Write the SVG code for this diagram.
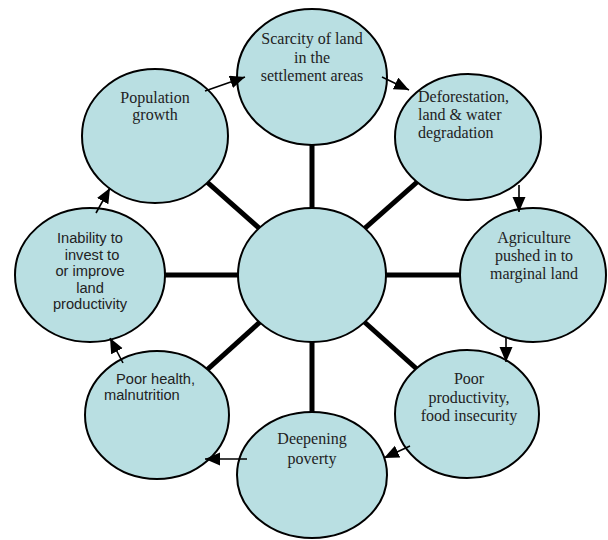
<svg xmlns="http://www.w3.org/2000/svg" width="608" height="540" viewBox="0 0 608 540">
<style>
.node ellipse{fill:#b9dfe2;stroke:#000;stroke-width:2}
.spoke{stroke:#000;stroke-width:5}
.arrow{stroke:#000;stroke-width:1.6;fill:none;marker-end:url(#ah)}
.serif{font-family:"Liberation Serif","Times New Roman",serif;font-size:16px;fill:#222}
.sans{font-family:"Liberation Sans",Arial,sans-serif;font-size:14.67px;fill:#222}
.c{text-anchor:middle}
</style>
<defs>
<marker id="ah" markerUnits="userSpaceOnUse" markerWidth="16" markerHeight="14" refX="15" refY="6.5" orient="auto">
<path d="M0,0 L15,6.5 L0,13 z" fill="#000"/>
</marker>
</defs>
<rect width="608" height="540" fill="#fff"/>
<g id="spokes">
<line class="spoke" x1="312" y1="275" x2="312" y2="77"/>
<line class="spoke" x1="312" y1="275" x2="468" y2="137"/>
<line class="spoke" x1="312" y1="275" x2="533" y2="275"/>
<line class="spoke" x1="312" y1="275" x2="467" y2="414"/>
<line class="spoke" x1="312" y1="275" x2="312" y2="475"/>
<line class="spoke" x1="312" y1="275" x2="157" y2="415"/>
<line class="spoke" x1="312" y1="275" x2="90" y2="275"/>
<line class="spoke" x1="312" y1="275" x2="155" y2="136"/>
</g>
<g id="center" class="node"><ellipse cx="312" cy="275" rx="74" ry="67"/></g>
<g id="scarcity" class="node"><ellipse cx="312" cy="77" rx="75" ry="68"/>
<text class="serif c" x="312" y="44">Scarcity of land</text>
<text class="serif c" x="312" y="63">in the</text>
<text class="serif c" x="312" y="81">settlement areas</text></g>
<g id="deforestation" class="node"><ellipse cx="468" cy="137" rx="73" ry="63"/>
<text class="serif" x="418" y="102">Deforestation,</text>
<text class="serif" x="418" y="120">land &amp; water</text>
<text class="serif" x="418" y="138">degradation</text></g>
<g id="agriculture" class="node"><ellipse cx="533" cy="275" rx="73" ry="67"/>
<text class="serif c" x="534" y="243">Agriculture</text>
<text class="serif c" x="534" y="261">pushed in to</text>
<text class="serif c" x="534" y="279">marginal land</text></g>
<g id="productivity" class="node"><ellipse cx="467" cy="414" rx="72" ry="64"/>
<text class="serif c" x="469" y="384">Poor</text>
<text class="serif c" x="469" y="403">productivity,</text>
<text class="serif c" x="469" y="421">food insecurity</text></g>
<g id="poverty" class="node"><ellipse cx="312" cy="475" rx="75" ry="63"/>
<text class="serif c" x="312" y="444">Deepening</text>
<text class="serif c" x="312" y="464">poverty</text></g>
<g id="health" class="node"><ellipse cx="157" cy="415" rx="72" ry="64"/>
<text class="sans" x="116" y="384">Poor health,</text>
<text class="sans" x="104" y="400">malnutrition</text></g>
<g id="inability" class="node"><ellipse cx="90" cy="275" rx="75" ry="67"/>
<text class="sans c" x="90" y="243">Inability to</text>
<text class="sans c" x="92" y="260">invest to</text>
<text class="sans c" x="90" y="276">or improve</text>
<text class="sans c" x="90" y="293">land</text>
<text class="sans c" x="90" y="309">productivity</text></g>
<g id="population" class="node"><ellipse cx="155" cy="136" rx="73" ry="67"/>
<text class="serif c" x="155" y="103">Population</text>
<text class="serif c" x="155" y="120">growth</text></g>
<g id="arrows">
<line class="arrow" x1="205" y1="91" x2="245" y2="77"/>
<line class="arrow" x1="382" y1="77" x2="409" y2="90"/>
<line class="arrow" x1="519" y1="185" x2="519" y2="212"/>
<line class="arrow" x1="506" y1="337" x2="506" y2="362"/>
<line class="arrow" x1="410" y1="446" x2="384" y2="458"/>
<line class="arrow" x1="247" y1="459" x2="205" y2="459"/>
<line class="arrow" x1="123" y1="363" x2="110" y2="338"/>
<line class="arrow" x1="96" y1="213" x2="110" y2="188"/>
</g>
</svg>
